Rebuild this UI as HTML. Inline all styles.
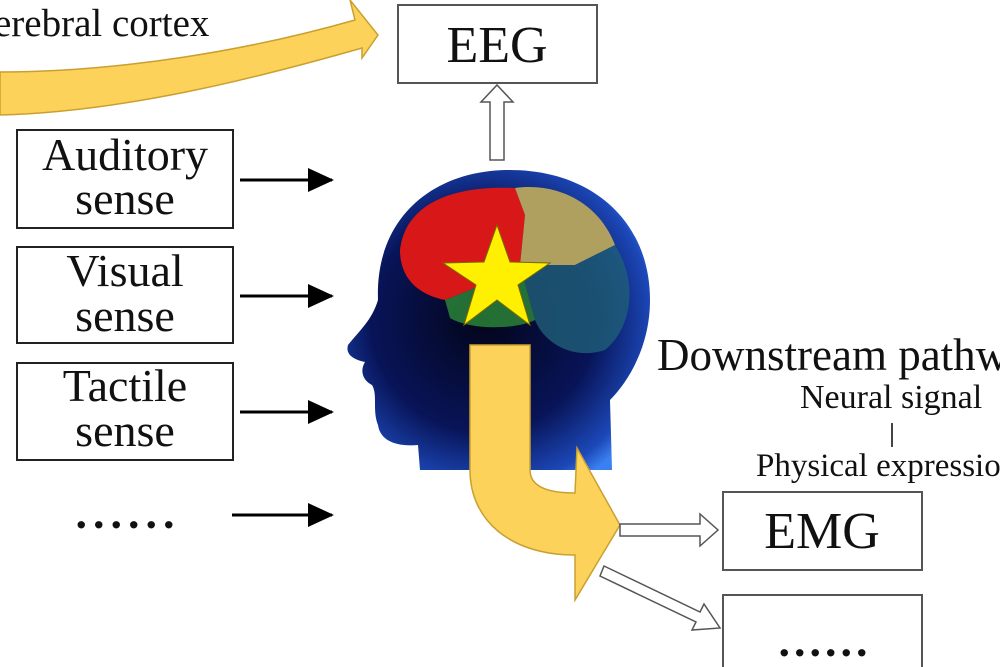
<!DOCTYPE html>
<html><head><meta charset="utf-8"><style>
html,body{margin:0;padding:0;background:#fff;width:1000px;height:667px;overflow:hidden}
svg{display:block}
text{font-family:"Liberation Serif",serif;fill:#111}
</style></head><body>
<svg width="1000" height="667" viewBox="0 0 1000 667" xmlns="http://www.w3.org/2000/svg">
<defs>
<radialGradient id="hg" cx="0.45" cy="0.5" r="0.62">
<stop offset="0" stop-color="#03051a"/><stop offset="0.6" stop-color="#081458"/><stop offset="0.9" stop-color="#1c48b8"/><stop offset="1" stop-color="#3a80f0"/>
</radialGradient>
<marker id="ah" markerWidth="26" markerHeight="24" refX="24" refY="12" orient="auto" markerUnits="userSpaceOnUse">
<path d="M0,0 L26,12 L0,24 Z" fill="#000"/></marker>
</defs>
<path d="M0,72 C120,72 250,50 355,20 L350,0 L378,35 L362,58 L362,48 C250,80 120,112 0,115 Z" fill="#fcd25a" stroke="#c9a030" stroke-width="1.5"/>
<text x="-6" y="36" font-size="39">erebral cortex</text>
<rect x="398" y="5" width="199" height="78" fill="#fff" stroke="#555" stroke-width="2"/>
<text x="497" y="62" font-size="52" text-anchor="middle">EEG</text>
<path d="M490,160 L490,102 L481,102 L497,85 L513,102 L504,102 L504,160 Z" fill="#fff" stroke="#555" stroke-width="1.5"/>
<g fill="#fff" stroke="#222" stroke-width="2">
<rect x="17" y="130" width="216" height="98"/>
<rect x="17" y="247" width="216" height="96"/>
<rect x="17" y="363" width="216" height="97"/>
</g>
<g font-size="46" text-anchor="middle">
<text x="125" y="170">Auditory</text><text x="125" y="214">sense</text>
<text x="125" y="286">Visual</text><text x="125" y="331">sense</text>
<text x="125" y="401">Tactile</text><text x="125" y="446">sense</text>
</g>
<text x="128" y="528" font-size="46" text-anchor="middle" font-weight="bold" letter-spacing="6">......</text>
<g stroke="#000" stroke-width="3" marker-end="url(#ah)">
<line x1="240" y1="180" x2="332" y2="180"/>
<line x1="240" y1="296" x2="332" y2="296"/>
<line x1="240" y1="412" x2="332" y2="412"/>
<line x1="232" y1="515" x2="332" y2="515"/>
</g>
<path d="M378,300 C375,220 430,172 505,170 C590,168 650,220 650,300 C650,350 625,385 610,400 L612,470 L420,470 L418,445 C395,447 380,440 378,425 C372,410 378,395 372,385 C362,380 360,370 365,362 C355,360 345,355 348,345 C360,330 372,320 378,300 Z" fill="url(#hg)"/>
<path d="M400,250 C405,205 450,185 515,188 L525,215 L520,265 L470,290 L445,300 C420,295 400,280 400,250 Z" fill="#d81818"/>
<path d="M515,188 C560,182 600,205 615,245 L575,265 L520,265 L525,215 Z" fill="#b0a060"/>
<path d="M575,265 L615,245 C640,285 630,330 605,350 C575,360 545,345 535,320 L520,265 Z" fill="#1f5f78" opacity="0.8"/>
<path d="M445,300 L470,290 L520,265 L535,320 C515,330 470,330 450,318 Z" fill="#2c8a3a" opacity="0.8"/>
<path d="M497,225 L510,262 L550,263 L518,285 L530,325 L497,300 L464,325 L476,285 L443,263 L484,262 Z" fill="#ffef00" stroke="#7a6a00" stroke-width="1"/>
<path d="M470,345 L530,345 L530,470 C530,485 545,493 575,493 L577,448 L620,525 L575,600 L575,555 C510,555 470,520 470,470 Z" fill="#fcd25a" stroke="#c9a030" stroke-width="1.5"/>
<path d="M620,524 L700,524 L700,514 L718,530 L700,546 L700,536 L620,536 Z" fill="#fff" stroke="#555" stroke-width="1.5"/>
<path d="M604,566 L700,612 L704,604 L720,628 L692,630 L696,622 L600,576 Z" fill="#fff" stroke="#555" stroke-width="1.5"/>
<text x="657" y="370" font-size="45">Downstream pathway</text>
<text x="800" y="408" font-size="34">Neural signal</text>
<line x1="892" y1="423" x2="892" y2="447" stroke="#444" stroke-width="2"/>
<text x="756" y="476" font-size="33">Physical expression</text>
<rect x="723" y="492" width="199" height="78" fill="#fff" stroke="#555" stroke-width="2"/>
<text x="822" y="548" font-size="52" text-anchor="middle">EMG</text>
<rect x="723" y="595" width="199" height="90" fill="#fff" stroke="#555" stroke-width="2"/>
<text x="825" y="656" font-size="46" text-anchor="middle" font-weight="bold" letter-spacing="4">......</text>
</svg>
</body></html>
